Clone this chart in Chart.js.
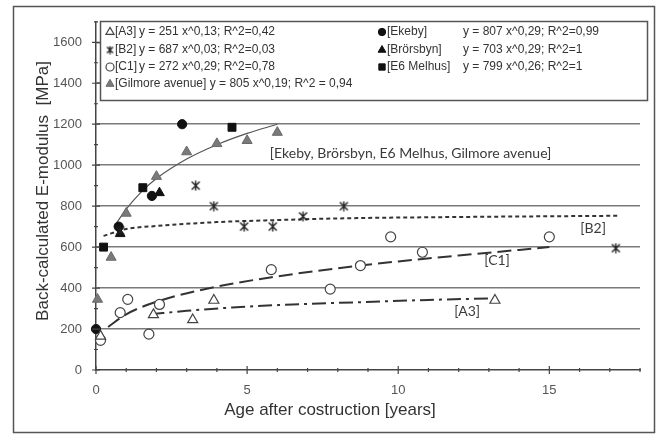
<!DOCTYPE html>
<html>
<head>
<meta charset="utf-8">
<script src="https://cdn.jsdelivr.net/npm/chart.js@4.4.0/dist/chart.umd.min.js"></script>
<style>
  html, body { margin: 0; padding: 0; background: #fff; }
</style>
</head>
<body>
<canvas id="chart" width="657" height="434"></canvas>
<script>
const a3Age = [0.15, 1.9, 3.2, 3.9, 13.2];
const a3Mod = [165, 270, 245, 340, 340];

const b2Age = [0.8, 3.3, 3.9, 4.9, 5.85, 6.85, 8.2, 17.2];
const b2Mod = [680, 900, 800, 700, 700, 750, 800, 595];

const c1Age = [0.15, 0.8, 1.05, 1.75, 2.1, 5.8, 7.75, 8.75, 9.75, 10.8, 15.0];
const c1Mod = [145, 280, 345, 175, 320, 490, 395, 510, 650, 575, 650];

const ekebyAge = [0, 0.75, 1.85, 2.85];
const ekebyMod = [200, 700, 850, 1200];

const brorsbynAge = [0.8, 2.1];
const brorsbynMod = [665, 865];

const melhusAge = [0.25, 1.55, 4.5];
const melhusMod = [600, 890, 1185];

const gilmoreAge = [0.05, 0.5, 1.0, 2.0, 3.0, 4.0, 5.0, 6.0];
const gilmoreMod = [345, 550, 765, 945, 1065, 1105, 1120, 1160];

// Trend curves
const trendAllAge = [0.6, 1, 1.5, 2, 3, 4, 5, 6];
const trendAllMod = [700, 785, 870, 935, 1030, 1100, 1155, 1200];

const trendB2Age = [0.25, 1, 2, 4, 6, 8, 12, 17.3];
const trendB2Mod = [655, 688, 703, 722, 732, 740, 747, 753];

const trendC1Age = [0.4, 1, 2, 4, 6, 8, 10, 12, 15];
const trendC1Mod = [210, 272, 333, 407, 457, 497, 530, 559, 600];

const trendA3Age = [1.8, 3, 4.5, 6.5, 8.5, 11, 13.2];
const trendA3Mod = [272, 289, 305, 320, 330, 342, 350];

// Tick labels
const xTickLabels = [0, 5, 10, 15];
const yTickLabels = [0, 200, 400, 600, 800, 1000, 1200, 1400, 1600];

const FONT = "'Liberation Sans', Arial, sans-serif";
const NOTE_FONT = "Lato, 'Open Sans', sans-serif";

const toPoints = (xs, ys) => xs.map((x, i) => ({ x: x, y: ys[i] }));

// Excel-like asterisk marker (X with a vertical bar)
function makeAsterisk(size) {
  const c = document.createElement('canvas');
  c.width = size; c.height = size;
  const g = c.getContext('2d');
  g.strokeStyle = '#222';
  g.lineWidth = 1.4;
  g.beginPath();
  g.moveTo(1.5, 1.5); g.lineTo(size - 1.5, size - 1.5);
  g.moveTo(size - 1.5, 1.5); g.lineTo(1.5, size - 1.5);
  g.moveTo(size / 2, 0.5); g.lineTo(size / 2, size - 0.5);
  g.stroke();
  return c;
}
const asterisk = makeAsterisk(11);
const asteriskSmall = makeAsterisk(9);

const markerStyles = {
  A3: { pointStyle: 'triangle', pointRadius: 5.8, backgroundColor: '#fff', borderColor: '#444', borderWidth: 1.2 },
  B2: { pointStyle: asterisk, pointRadius: 5, backgroundColor: '#222', borderColor: '#222', borderWidth: 1 },
  C1: { pointStyle: 'circle', pointRadius: 5, backgroundColor: '#fff', borderColor: '#444', borderWidth: 1.2 },
  Ekeby: { pointStyle: 'circle', pointRadius: 4.6, backgroundColor: '#111', borderColor: '#111', borderWidth: 1 },
  Brorsbyn: { pointStyle: 'triangle', pointRadius: 5.6, backgroundColor: '#111', borderColor: '#111', borderWidth: 1 },
  Melhus: { pointStyle: 'rect', pointRadius: 5.6, backgroundColor: '#111', borderColor: '#111', borderWidth: 1 },
  Gilmore: { pointStyle: 'triangle', pointRadius: 5.8, backgroundColor: '#7a7a7a', borderColor: '#6a6a6a', borderWidth: 1 }
};

function markerSet(label, xs, ys, key) {
  const s = markerStyles[key];
  return {
    type: 'scatter',
    label: label,
    data: toPoints(xs, ys),
    pointStyle: s.pointStyle,
    pointRadius: s.pointRadius,
    backgroundColor: s.backgroundColor,
    borderColor: s.borderColor,
    borderWidth: s.borderWidth,
    showLine: false,
    clip: false
  };
}

function trendSet(label, xs, ys, dash, width, color) {
  return {
    type: 'line',
    label: label,
    data: toPoints(xs, ys),
    borderColor: color,
    borderWidth: width,
    borderDash: dash,
    pointRadius: 0,
    fill: false,
    cubicInterpolationMode: 'monotone'
  };
}

// Legend rows: [style key, label, equation]
const legendLeft = [
  ['A3', '[A3]', 'y = 251 x^0,13; R^2=0,42'],
  ['B2', '[B2]', 'y = 687 x^0,03; R^2=0,03'],
  ['C1', '[C1]', 'y = 272 x^0,29; R^2=0,78'],
  ['Gilmore', '[Gilmore avenue] y = 805 x^0,19; R^2 = 0,94', '']
];
const legendRight = [
  ['Ekeby', '[Ekeby]', 'y = 807 x^0,29; R^2=0,99'],
  ['Brorsbyn', '[Brörsbyn]', 'y = 703 x^0,29; R^2=1'],
  ['Melhus', '[E6 Melhus]', 'y = 799 x^0,26; R^2=1']
];

// Curve labels, placed in data coordinates
const curveNotes = [
  { text: '[Ekeby, Brörsbyn, E6 Melhus, Gilmore avenue]', x: 5.75, y: 1055, align: 'left' },
  { text: '[B2]', x: 16.45, y: 690, align: 'center' },
  { text: '[C1]', x: 13.27, y: 534, align: 'center' },
  { text: '[A3]', x: 12.28, y: 287, align: 'center' }
];

function drawMarker(ctx, key, x, y, scale) {
  const s = markerStyles[key];
  ctx.save();
  ctx.fillStyle = s.backgroundColor;
  ctx.strokeStyle = s.borderColor;
  ctx.lineWidth = s.borderWidth;
  let style = s.pointStyle;
  if (key === 'B2') style = asteriskSmall;
  Chart.helpers.drawPoint(ctx, { pointStyle: style, radius: s.pointRadius * scale, borderWidth: s.borderWidth, rotation: 0 }, x, y);
  ctx.restore();
}

const decorations = {
  id: 'decorations',
  beforeDraw(chart) {
    const ctx = chart.ctx;
    ctx.save();
    ctx.fillStyle = '#fff';
    ctx.fillRect(0, 0, chart.width, chart.height);
    ctx.restore();
  },
  afterDraw(chart) {
    const ctx = chart.ctx;
    const xs = chart.scales.x;
    const ys = chart.scales.y;
    const area = chart.chartArea;
    ctx.save();

    // crossing tick marks
    ctx.strokeStyle = '#444';
    ctx.lineWidth = 1.2;
    ctx.beginPath();
    for (let v = 0; v <= 18; v++) {
      const px = xs.getPixelForValue(v);
      const len = v % 5 === 0 ? 4 : 2;
      ctx.moveTo(px, area.bottom - len);
      ctx.lineTo(px, area.bottom + len);
    }
    for (let v = 0; v <= 1700; v += 100) {
      const py = ys.getPixelForValue(v);
      const len = v % 200 === 0 ? 4 : 2;
      ctx.moveTo(area.left - len, py);
      ctx.lineTo(area.left + len, py);
    }
    ctx.stroke();

    // curve labels
    ctx.fillStyle = '#3a3a3a';
    ctx.font = '14px ' + NOTE_FONT;
    ctx.textBaseline = 'middle';
    curveNotes.forEach(n => {
      ctx.textAlign = n.align;
      ctx.fillText(n.text, xs.getPixelForValue(n.x), ys.getPixelForValue(n.y));
    });

    // axis titles
    ctx.fillStyle = '#333';
    ctx.font = '17px ' + FONT;
    ctx.textAlign = 'center';
    ctx.fillText('Age after costruction [years]', 330, 410);
    ctx.save();
    ctx.translate(43, 191);
    ctx.rotate(-Math.PI / 2);
    ctx.fillText('Back-calculated E-modulus  [MPa]', 0, 0);
    ctx.restore();

    // legend box
    ctx.fillStyle = '#fff';
    ctx.fillRect(100, 21, 547, 79);
    ctx.strokeStyle = '#555';
    ctx.lineWidth = 1.5;
    ctx.strokeRect(100.5, 21.5, 547, 79);

    const rowY = [32, 50, 67, 84];
    ctx.font = '12px ' + FONT;
    ctx.textAlign = 'left';
    legendLeft.forEach((row, i) => {
      drawMarker(ctx, row[0], 110, rowY[i], 0.8);
      ctx.fillStyle = '#333';
      ctx.fillText(row[1], 115, rowY[i]);
      if (row[2]) ctx.fillText(row[2], 139, rowY[i]);
    });
    legendRight.forEach((row, i) => {
      drawMarker(ctx, row[0], 382, rowY[i], 0.8);
      ctx.fillStyle = '#333';
      ctx.fillText(row[1], 387, rowY[i]);
      ctx.fillText(row[2], 463, rowY[i]);
    });

    // outer frame
    ctx.strokeStyle = '#555';
    ctx.lineWidth = 1.5;
    ctx.strokeRect(13.5, 6.5, 641, 426);
    ctx.restore();
  }
};

const ctx = document.getElementById('chart').getContext('2d');
const chart = new Chart(ctx, {
  data: {
    datasets: [
      markerSet('[A3]', a3Age, a3Mod, 'A3'),
      markerSet('[B2]', b2Age, b2Mod, 'B2'),
      markerSet('[C1]', c1Age, c1Mod, 'C1'),
      markerSet('[Ekeby]', ekebyAge, ekebyMod, 'Ekeby'),
      markerSet('[Brörsbyn]', brorsbynAge, brorsbynMod, 'Brorsbyn'),
      markerSet('[E6 Melhus]', melhusAge, melhusMod, 'Melhus'),
      markerSet('[Gilmore avenue]', gilmoreAge, gilmoreMod, 'Gilmore'),
      trendSet('all', trendAllAge, trendAllMod, [], 1.2, '#555'),
      trendSet('B2 fit', trendB2Age, trendB2Mod, [4, 3], 2, '#333'),
      trendSet('C1 fit', trendC1Age, trendC1Mod, [14, 6], 2, '#333'),
      trendSet('A3 fit', trendA3Age, trendA3Mod, [14, 5, 3, 5], 2, '#333')
    ]
  },
  options: {
    responsive: false,
    animation: false,
    devicePixelRatio: 1,
    layout: { padding: { top: 20, right: 17, left: 0, bottom: 0 } },
    plugins: {
      legend: { display: false },
      tooltip: { enabled: false }
    },
    scales: {
      x: {
        type: 'linear',
        min: 0,
        max: 18,
        afterFit: (scale) => { scale.height = 64; },
        grid: { display: false, drawTicks: false },
        border: { color: '#444', width: 1.5 },
        ticks: {
          stepSize: 1,
          autoSkip: false,
          maxRotation: 0,
          padding: 13,
          color: '#555',
          font: { family: FONT, size: 13 },
          callback: (v) => xTickLabels.includes(v) ? String(v) : ''
        }
      },
      y: {
        type: 'linear',
        min: 0,
        max: 1700,
        afterFit: (scale) => { scale.width = 96; },
        grid: {
          drawTicks: false,
          lineWidth: 1.5,
          color: (c) => (c.tick.value > 0 && c.tick.value % 200 === 0) ? '#7a7a7a' : 'rgba(0,0,0,0)'
        },
        border: { color: '#444', width: 1.5 },
        ticks: {
          stepSize: 100,
          autoSkip: false,
          padding: 14,
          color: '#555',
          font: { family: FONT, size: 13 },
          callback: (v) => yTickLabels.includes(v) ? String(v) : ''
        }
      }
    }
  },
  plugins: [decorations]
});
</script>
</body>
</html>
